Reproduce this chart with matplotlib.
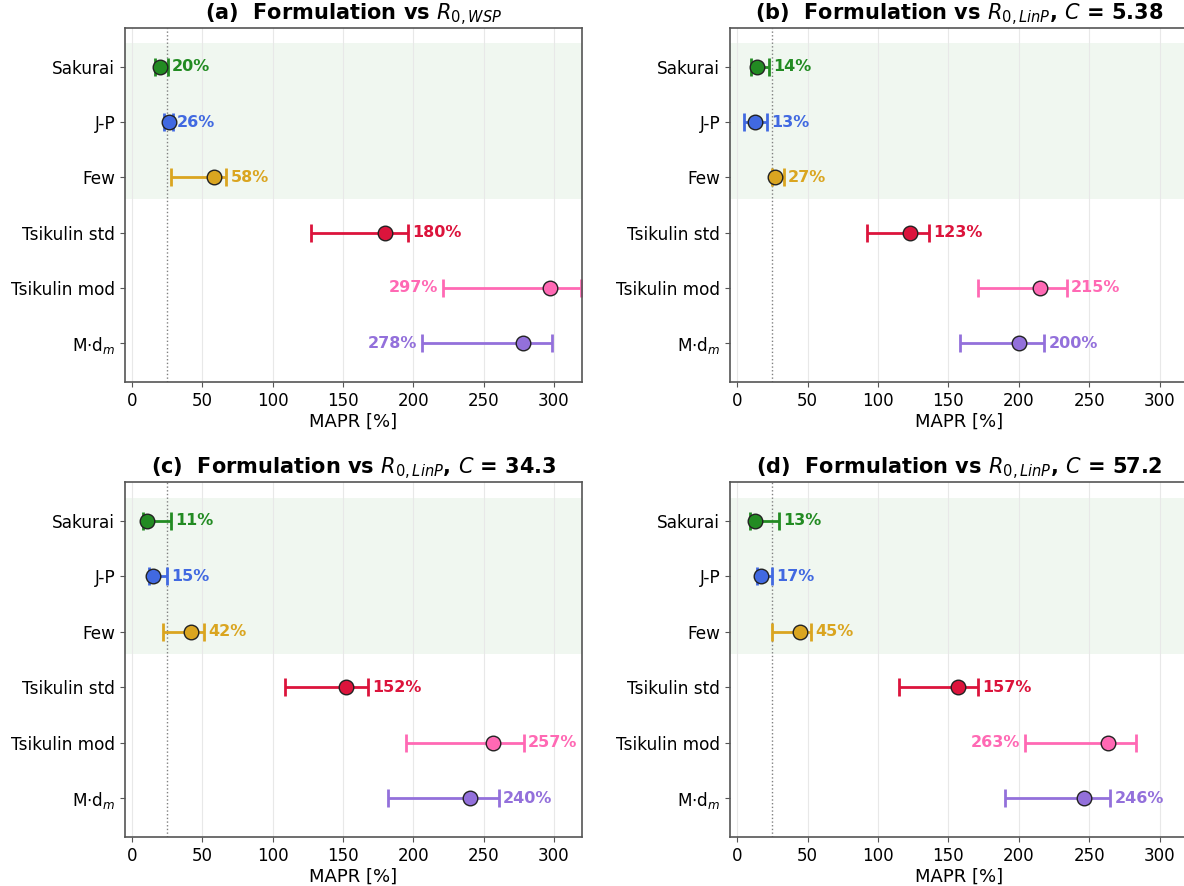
import matplotlib.pyplot as plt

# formulations, top to bottom
formulations = ['Sakurai', 'J-P', 'Few', 'Tsikulin std', 'Tsikulin mod', r'M$\cdot$d$_m$']
colors = ['forestgreen', 'royalblue', 'goldenrod', 'crimson', 'hotpink', 'mediumpurple']

# MAPR [%] with lower / upper interval bounds for each comparison
mapr_wsp = [20, 26, 58, 180, 297, 278]
low_wsp = [16, 22.5, 28, 127, 221, 206]
high_wsp = [25.5, 29, 67, 196, 319, 299]

mapr_c538 = [14, 13, 27, 123, 215, 200]
low_c538 = [10, 5, 25, 92, 171, 158]
high_c538 = [23, 21, 33, 136, 234, 218]

mapr_c343 = [11, 15, 42, 152, 257, 240]
low_c343 = [7.5, 12, 22, 108.5, 195, 182]
high_c343 = [28, 25, 51, 168, 278.5, 261]

mapr_c572 = [13, 17, 45, 157, 263, 246]
low_c572 = [9, 14.5, 24.5, 115, 204, 190]
high_c572 = [29.5, 25, 52.5, 171, 283, 265]

titles = [
    r'(a)  Formulation vs $R_{0,WSP}$',
    r'(b)  Formulation vs $R_{0,LinP}$, $C$ = 5.38',
    r'(c)  Formulation vs $R_{0,LinP}$, $C$ = 34.3',
    r'(d)  Formulation vs $R_{0,LinP}$, $C$ = 57.2',
]

ref_line = 25      # target MAPR
n_good = 3         # first three formulations are shaded

W, H = 1184, 886
fig = plt.figure(figsize=(W / 100, H / 100), dpi=100)

# axes boxes in pixels: left, top, right, bottom
boxes = [(125, 28, 582, 382), (730, 28, 1188, 382),
         (125, 482, 582, 837), (730, 482, 1188, 837)]
panels = [(mapr_wsp, low_wsp, high_wsp), (mapr_c538, low_c538, high_c538),
          (mapr_c343, low_c343, high_c343), (mapr_c572, low_c572, high_c572)]

for (l, t, r, b), (vals, lows, highs), title in zip(boxes, panels, titles):
    ax = fig.add_axes([l / W, (H - b) / H, (r - l) / W, (b - t) / H])
    y = list(range(len(formulations)))

    ax.axhspan(-0.42, n_good - 0.6, color='green', alpha=0.06, lw=0, zorder=0)
    ax.axvline(ref_line, color='gray', ls=':', lw=1, zorder=1)

    for i, (v, lo, hi, c) in enumerate(zip(vals, lows, highs, colors)):
        ax.errorbar(v, i, xerr=[[v - lo], [hi - v]], fmt='none', ecolor=c,
                    elinewidth=2, capsize=6.5, capthick=2, zorder=2)
        ax.plot(v, i, 'o', ms=10.5, mfc=c, mec='#222222', mew=1, zorder=3)
        if hi > 280:
            ax.annotate(f'{v:.0f}%', (lo, i), xytext=(-3, 0), textcoords='offset points',
                        ha='right', va='center', color=c, fontsize=11.5, fontweight='bold')
        else:
            ax.annotate(f'{v:.0f}%', (hi, i), xytext=(3, 0), textcoords='offset points',
                        ha='left', va='center', color=c, fontsize=11.5, fontweight='bold')

    ax.set_yticks(y)
    ax.set_yticklabels(formulations, fontsize=12.2)
    ax.set_ylim(len(formulations) - 0.3, -0.7)
    ax.set_xlim(-5, 320)
    ax.set_xticks(range(0, 301, 50))
    ax.tick_params(axis='x', labelsize=12)
    ax.tick_params(length=3.5, color='#555555')
    ax.set_xlabel('MAPR [%]', fontsize=13, labelpad=2)
    ax.set_title(title, fontsize=15, fontweight='bold', pad=1)
    ax.grid(axis='x', color='#e8e8e8', lw=0.8, zorder=0)
    ax.set_axisbelow(True)
    for s in ax.spines.values():
        s.set_color('#555555')
        s.set_linewidth(1.2)

fig.savefig('out.png', dpi=100)
